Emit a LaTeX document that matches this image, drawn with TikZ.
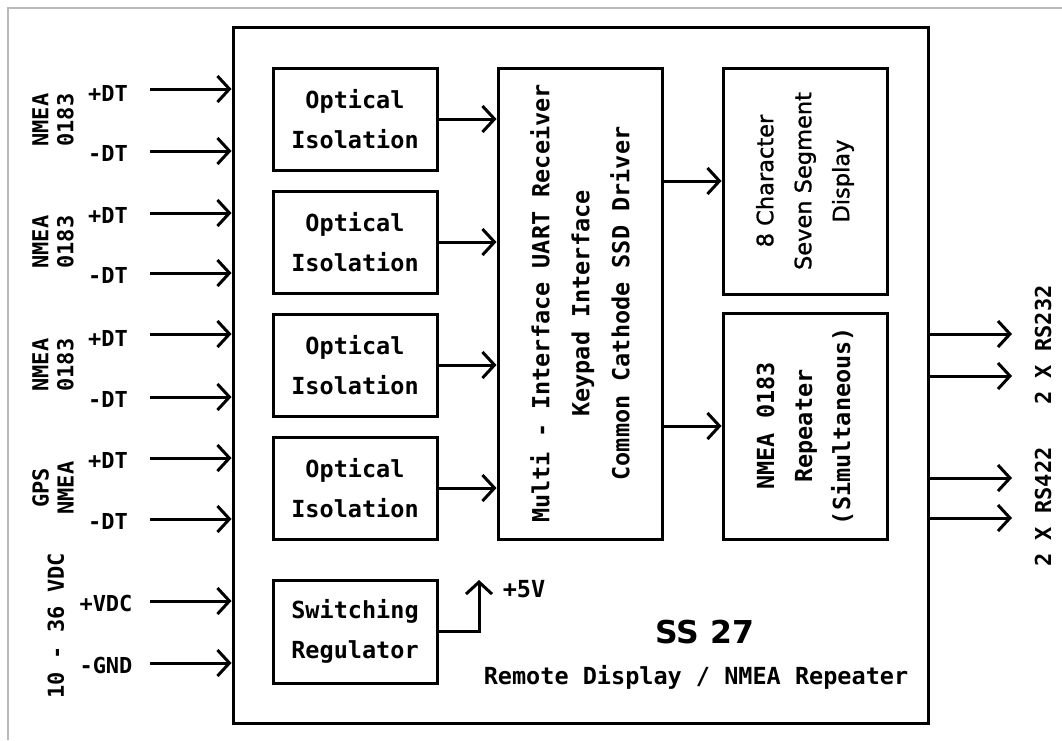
\documentclass[tikz,border=0pt]{standalone}
\usepackage{fontspec}
\newfontfamily\monofnt{DejaVu Sans Mono}
\newfontfamily\sansfnt{DejaVu Sans}
\newfontfamily\sansmed{DejaVu Sans}[FakeBold=1.2]
\usetikzlibrary{arrows.meta}
\newcommand\mtxt{\monofnt\bfseries\fontsize{23.5}{40}\selectfont}
\newcommand\ltxt{\monofnt\bfseries\fontsize{22}{25}\selectfont}
\begin{document}
\begin{tikzpicture}[x=1pt,y=-1pt,
  blk/.style={draw,line width=3pt,minimum width=164pt,inner sep=0pt,align=center,font=\mtxt},
  arr/.style={line width=3pt,-{Straight Barb[length=12pt,width=26pt]}},
  lbl/.style={inner sep=0pt,align=center,font=\ltxt},
  rlbl/.style={inner sep=0pt,align=center,font=\ltxt,rotate=90}]
\useasboundingbox (0,0) rectangle (1062,740);
\draw[gray!55,line width=1.5pt] (8,740) -- (8,8) -- (1062,8);
% main box
\node[draw,line width=3pt,minimum width=695pt,minimum height=696pt,inner sep=0pt] (main) at (580.5,375) {};
% optical isolation
\node[blk,minimum height=102pt] (o1) at (355,119) {Optical\\Isolation};
\node[blk,minimum height=102pt] (o2) at (355,242) {Optical\\Isolation};
\node[blk,minimum height=102pt] (o3) at (355,365) {Optical\\Isolation};
\node[blk,minimum height=102pt] (o4) at (355,488) {Optical\\Isolation};
\node[blk,minimum height=103pt] (sw) at (355,631.5) {Switching\\Regulator};
% central
\node[blk,minimum height=471pt] (cpu) at (580,303.5) {};
\node[inner sep=0pt,align=center,font=\mtxt,rotate=90] (cput) at (cpu.center) {Multi - Interface UART Receiver\\Keypad Interface\\Common Cathode SSD Driver};
% display
\node[blk,minimum height=226pt] (disp) at (805,181) {};
\node[inner sep=0pt,align=center,font=\sansmed\fontsize{22.5}{38}\selectfont,rotate=90] (dispt) at (disp.center) {8 Character\\Seven Segment\\Display};
% repeater
\node[blk,minimum height=226pt] (rep) at (805,426) {};
\node[inner sep=0pt,align=center,font=\monofnt\bfseries\fontsize{23.5}{38}\selectfont,rotate=90] (rept) at (rep.center) {NMEA 0183\\Repeater\\(Simultaneous)};
% internal arrows
\draw[arr] (o1.east) -- (o1.east -| cpu.west);
\draw[arr] (o2.east) -- (o2.east -| cpu.west);
\draw[arr] (o3.east) -- (o3.east -| cpu.west);
\draw[arr] (o4.east) -- (o4.east -| cpu.west);
\draw[arr] (cpu.east |- disp.west) -- (disp.west);
\draw[arr] (cpu.east |- rep.west) -- (rep.west);
\coordinate (v5) at (479,580);
\draw[arr] (sw.east) -| (v5);
\node[lbl,font=\mtxt] (p5) at (524,589) {+5V};
% titles
\node[inner sep=0pt,font=\sansfnt\bfseries\fontsize{31.5}{36}\selectfont] (title) at (705,632) {SS 27};
\node[inner sep=0pt,font=\mtxt] (sub) at (696,677) {Remote Display / NMEA Repeater};
% left inputs
\foreach \n/\y in {1/89,2/151,3/213,4/273,5/334,6/397,7/458,8/519,9/601,10/663}{
  \coordinate (in\n) at (150,\y);
  \draw[arr] (in\n) -- (in\n -| main.west);
}
\foreach \n/\y in {1/93,3/215,5/338,7/460}{\node[lbl] (pd\n) at (108,\y) {+DT};}
\foreach \n/\y in {2/153,4/275,6/399,8/521}{\node[lbl] (md\n) at (108,\y) {-DT};}
\node[lbl] (pv) at (106,603) {+VDC};
\node[lbl] (mg) at (106,665) {-GND};
\node[rlbl] (n1) at (53,120) {NMEA\\0183};
\node[rlbl] (n2) at (53,242) {NMEA\\0183};
\node[rlbl] (n3) at (53,365) {NMEA\\0183};
\node[rlbl] (n4) at (53,488) {GPS\\NMEA};
\node[rlbl] (vdc) at (56,626) {10 - 36 VDC};
% right outputs
\foreach \n/\y in {1/334,2/376,3/478,4/518}{
  \coordinate (out\n) at (1012,\y);
  \draw[arr] (out\n -| main.east) -- (out\n);
}
\node[rlbl] (rs232) at (1043,345) {2 X RS232};
\node[rlbl] (rs422) at (1043,507) {2 X RS422};
\end{tikzpicture}
\end{document}
